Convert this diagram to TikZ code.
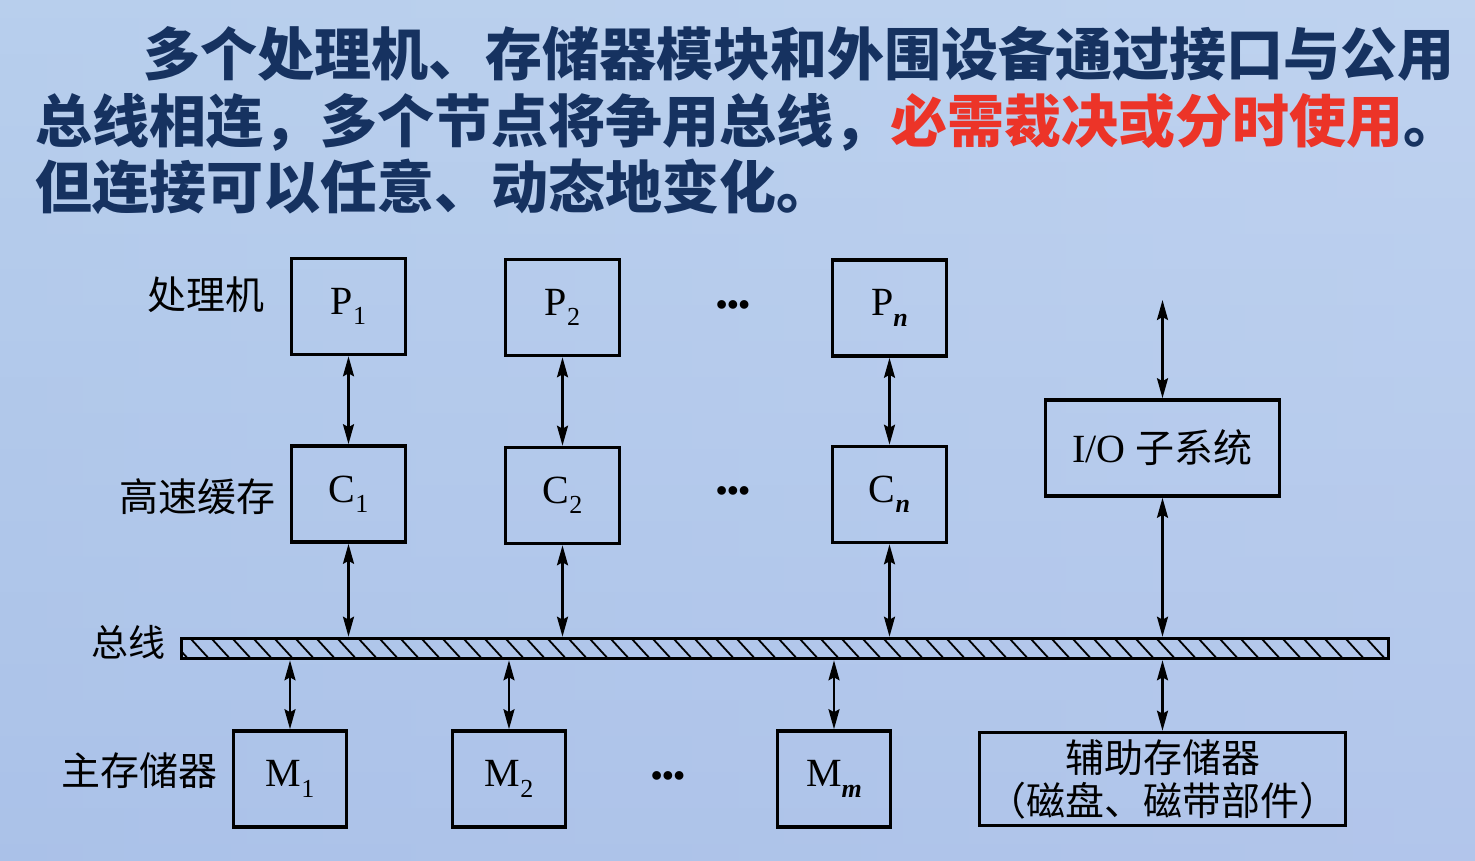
\documentclass[tikz,border=0pt]{standalone}
\usepackage{fontspec}
\setmainfont{Liberation Serif}
\newfontfamily\cjk{Noto Sans CJK SC}
\usetikzlibrary{arrows.meta}

\definecolor{bgTop}{RGB}{184,207,237}
\definecolor{bgBot}{RGB}{160,183,229}
\definecolor{bgSide}{RGB}{200,216,243}
\definecolor{titleblue}{RGB}{22,50,96}
\definecolor{titlered}{RGB}{236,52,40}

% subscript for the module names
\newcommand{\modidx}[1]{\raisebox{-0.26em}{\fontsize{26}{26}\selectfont #1}}

\tikzset{
  unitbox/.style={draw, line width=3.6pt, inner sep=0pt,
    minimum width=114pt, minimum height=96pt,
    font=\fontsize{40}{44}\selectfont},
  rowlabel/.style={font=\cjk\fontsize{39}{42}\selectfont, inner sep=0pt},
  titleline/.style={anchor=base west, inner sep=0pt, text=titleblue,
    font=\cjk\bfseries\fontsize{57}{60}\selectfont},
  biarrow/.style={line width=2.4pt,
    {Stealth[length=20pt,width=11pt,inset=3pt]}-{Stealth[length=20pt,width=11pt,inset=3pt]}},
  ellip/.style={font=\bfseries\fontsize{32}{32}\selectfont, inner sep=0pt},
}

\begin{document}
\begin{tikzpicture}[x=1pt,y=-1pt]
  % page and background
  \useasboundingbox (0,0) rectangle (1475,861);
  \shade[top color=bgTop, bottom color=bgBot] (0,0) rectangle (1475,861);
  \shade[left color=bgTop, right color=bgSide, opacity=0.45] (0,0) rectangle (1475,861);

  % heading
  \node[titleline] (t1) at (143,76) {多个处理机、存储器模块和外围设备通过接口与公用};
  \node[titleline] (t2) at (35,143) {总线相连，多个节点将争用总线，\textcolor{titlered}{必需裁决或分时使用}。};
  \node[titleline] (t3) at (35,209) {但连接可以任意、动态地变化。};

  % processors
  \node[unitbox] (P1) at (348.5,306.5) {P\modidx{1}};
  \node[unitbox] (P2) at (562.5,307.5) {P\modidx{2}};
  \node[unitbox] (Pn) at (889.5,308)   {P\modidx{\textbf{\textit{n}}}};
  \node[ellip] (dP) at (733,308) {•••};

  % caches
  \node[unitbox] (C1) at (348.5,494)   {C\modidx{1}};
  \node[unitbox] (C2) at (562.5,495.5) {C\modidx{2}};
  \node[unitbox] (Cn) at (889.5,494.5) {C\modidx{\textbf{\textit{n}}}};
  \node[ellip] (dC) at (733,494) {•••};

  % I/O subsystem
  \node[unitbox, minimum width=234pt] (IO) at (1162.5,448)
    {I/O {\cjk\fontsize{39}{42}\selectfont 子系统}};
  \coordinate (ioExt) at (1162.5,300);

  % shared bus with diagonal hatching
  \node[draw, line width=3.6pt, inner sep=0pt, minimum width=1207pt,
        minimum height=20pt,
        path picture={
          \foreach \k in {0,...,58}
            \draw[line width=1.8pt]
              ([xshift=\k*21pt-12pt]path picture bounding box.north west)
              -- ++(22pt,-24pt);
        }] (bus) at (785,648.5) {};

  % main memories
  \node[unitbox, minimum width=113pt] (M1) at (290,779) {M\modidx{1}};
  \node[unitbox, minimum width=113pt] (M2) at (509,779) {M\modidx{2}};
  \node[unitbox, minimum width=113pt] (Mm) at (834,779) {M\modidx{\textbf{\textit{m}}}};
  \node[ellip] (dM) at (668,779) {•••};

  % auxiliary storage
  \node[unitbox, minimum width=366pt, minimum height=93pt, align=center,
        font=\cjk\fontsize{39}{43}\selectfont] (Aux) at (1162.5,779)
    {辅助存储器\\（磁盘、磁带部件）};

  % row labels
  \node[rowlabel] (lP) at (206,295) {处理机};
  \node[rowlabel] (lC) at (197,497) {高速缓存};
  \node[rowlabel, font=\cjk\fontsize{37}{40}\selectfont] (lB) at (128,642) {总线};
  \node[rowlabel] (lM) at (139,771) {主存储器};

  % connections
  \draw[biarrow] (P1) -- (C1);
  \draw[biarrow] (P2) -- (C2);
  \draw[biarrow] (Pn) -- (Cn);
  \draw[biarrow] (C1.south) -- (C1.south |- bus.north);
  \draw[biarrow] (C2.south) -- (C2.south |- bus.north);
  \draw[biarrow] (Cn.south) -- (Cn.south |- bus.north);
  \draw[biarrow] (ioExt) -- (IO.north);
  \draw[biarrow] (IO.south) -- (IO.south |- bus.north);
  \draw[biarrow] (bus.south -| M1.north) -- (M1.north);
  \draw[biarrow] (bus.south -| M2.north) -- (M2.north);
  \draw[biarrow] (bus.south -| Mm.north) -- (Mm.north);
  \draw[biarrow] (bus.south -| Aux.north) -- (Aux.north);
\end{tikzpicture}
\end{document}
